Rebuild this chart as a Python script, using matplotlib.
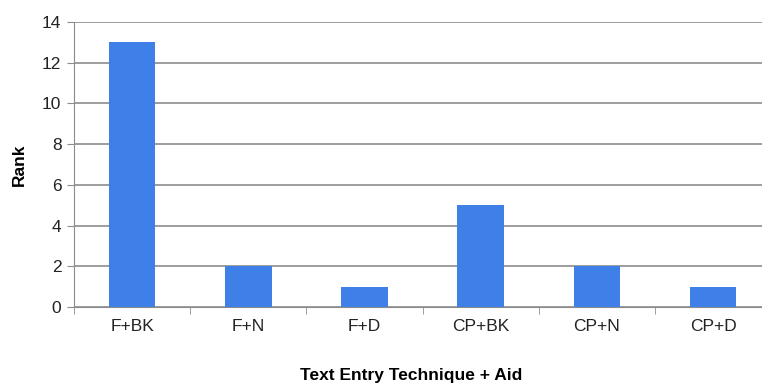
import numpy as np
import matplotlib.pyplot as plt

plt.rcParams['font.family'] = ['Liberation Sans', 'DejaVu Sans']

# combinations of text entry technique and aid
techniques = ["F+BK", "F+N", "F+D", "CP+BK", "CP+N", "CP+D"]
rank = [13, 2, 1, 5, 2, 1]

fig = plt.figure(figsize=(7.62, 3.85), dpi=100)
# plot area runs a little past the right edge of the figure
ax = fig.add_axes([0.0971, 0.2026, 0.915, 0.7403])

x = np.arange(len(techniques))
ax.bar(x, rank, width=0.4, color="#3F7FE8", zorder=3)

ax.set_xlim(-0.5, len(techniques) - 0.5)
ax.set_ylim(0, 14)
ax.set_yticks(range(0, 15, 2))
ax.yaxis.grid(True, color="#8c8c8c", linewidth=1.2, zorder=0)

# category labels in the middle, tick marks between categories
ax.set_xticks(x)
ax.set_xticklabels(techniques, fontsize=12.5, color="#222222")
ax.tick_params(axis="x", length=0, pad=9)
ax.set_xticks(np.arange(-0.5, len(techniques), 1), minor=True)
ax.tick_params(axis="x", which="minor", length=5, color="#8c8c8c", direction="out")
ax.tick_params(axis="y", length=5, color="#8c8c8c", labelsize=12.5, labelcolor="#222222", pad=4)

for side in ["top", "right"]:
    ax.spines[side].set_visible(False)
ax.spines["left"].set_color("#8c8c8c")
ax.spines["bottom"].set_color("#8c8c8c")

ax.set_ylabel("Rank", fontsize=12.5, fontweight="bold")
ax.yaxis.set_label_coords(-0.067, 0.5)
ax.set_xlabel("Text Entry Technique + Aid", fontsize=12.5, fontweight="bold")
ax.xaxis.set_label_coords(0.483, -0.215)

fig.savefig("out.png", dpi=100)
